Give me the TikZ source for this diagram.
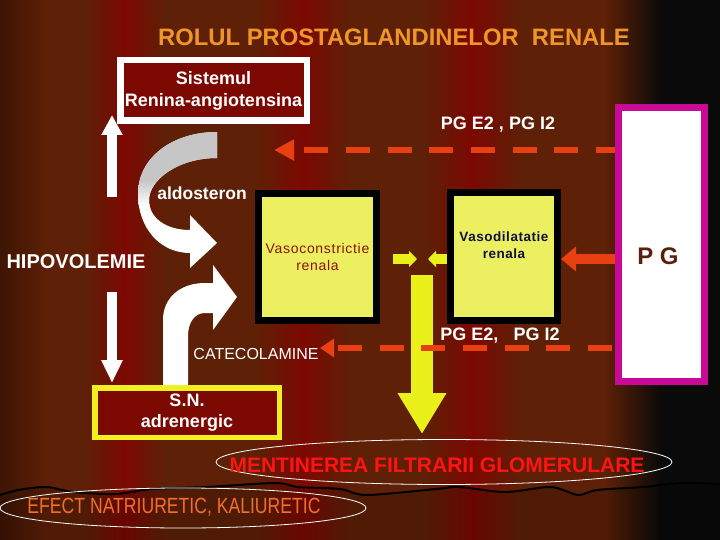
\documentclass[tikz,border=0pt]{standalone}
\usepackage{fontspec}
\setmainfont{Liberation Sans}
\usetikzlibrary{arrows.meta,shapes.geometric}

\definecolor{bgdark}{RGB}{62,20,4}
\definecolor{bgbrown}{RGB}{94,32,6}
\definecolor{bgred}{RGB}{124,8,2}
\definecolor{bgblack}{RGB}{10,10,10}
\definecolor{titleorange}{RGB}{240,150,40}
\definecolor{boxyellow}{RGB}{236,240,96}
\definecolor{arrowyellow}{RGB}{234,240,26}
\definecolor{frameyellow}{RGB}{240,240,32}
\definecolor{dashorange}{RGB}{232,64,16}
\definecolor{pgmagenta}{RGB}{200,10,150}
\definecolor{textred}{RGB}{140,16,16}
\definecolor{textnavy}{RGB}{16,16,64}
\definecolor{pgbrown}{RGB}{90,32,12}
\definecolor{filtred}{RGB}{255,20,20}
\definecolor{efectorange}{RGB}{240,112,40}
\definecolor{aldogray}{RGB}{198,198,198}

\newcommand{\setfs}[2]{\fontsize{#1}{#2}\selectfont}

\begin{document}
\begin{tikzpicture}[x=1pt,y=-1pt]
  \useasboundingbox (0,0) rectangle (720,540);

  % curtain
  \shade[left color=bgdark,right color=bgbrown] (0,0) rectangle (46.5,540);
  \fill[bgbrown] (46,0) rectangle (85.5,540);
  \shade[left color=bgbrown,right color=bgred] (85,0) rectangle (124.5,540);
  \shade[left color=bgred,right color=bgbrown] (124,0) rectangle (165.5,540);
  \fill[bgbrown] (165,0) rectangle (255.5,540);
  \shade[left color=bgbrown,right color=bgred] (255,0) rectangle (303.5,540);
  \shade[left color=bgred,right color=bgbrown] (303,0) rectangle (350.5,540);
  \fill[bgbrown] (350,0) rectangle (425.5,540);
  \shade[left color=bgbrown,right color=bgred] (425,0) rectangle (472.5,540);
  \shade[left color=bgred,right color=bgbrown] (472,0) rectangle (520.5,540);
  \fill[bgbrown] (520,0) rectangle (605.5,540);
  \shade[left color=bgbrown,right color=bgblack] (605,0) rectangle (660.5,540);
  \fill[bgblack] (660,0) rectangle (720,540);

  \fill[black,opacity=0.15] plot[smooth] coordinates {(0,495) (18,490) (46,487) (73,492) (115,494)
    (152,489) (207,487) (275,483) (298,487) (340,489) (367,495) (436,489) (459,487)
    (505,492) (551,487) (578,495) (597,490) (643,487) (680,483) (720,484)}
    -- (720,540) -- (0,540) -- cycle;
  \draw[black,line width=2pt] plot[smooth] coordinates {(0,495) (18,490) (46,487) (73,492) (115,494)
    (152,489) (207,487) (275,483) (298,487) (340,489) (367,495) (436,489) (459,487)
    (505,492) (551,487) (578,495) (597,490) (643,487) (680,483) (720,484)};

  \tikzstyle{TitleStyle}=[text=titleorange, font=\setfs{23.8}{28}\bfseries, inner sep=0pt]
  \tikzstyle{LabelStyle}=[text=white, font=\setfs{18}{22}\bfseries, inner sep=0pt, align=center]
  \tikzstyle{FrameStyle}=[draw, fill=bgred, inner sep=0pt, align=center]
  \tikzstyle{KidneyBox}=[draw=black, line width=7pt, fill=boxyellow, inner sep=0pt, align=center]
  \tikzstyle{WhiteArrow}=[white, line width=10pt]
  \tikzstyle{DashArrow}=[dashorange, line width=6.5pt, dash pattern=on 24pt off 17.7pt]
  \tikzstyle{EllipseStyle}=[draw=white, line width=0.8pt, ellipse, inner sep=0pt]

  \node[TitleStyle] (title) at (394,37) {ROLUL PROSTAGLANDINELOR~~RENALE};

  \node[FrameStyle, draw=white, line width=6.5pt, minimum width=186.5pt, minimum height=60.5pt,
        text=white, font=\setfs{18}{22}\bfseries] (ras) at (213.5,90.5) {Sistemul\\Renina-angiotensina};
  \node[FrameStyle, draw=frameyellow, line width=5.5pt, minimum width=184.5pt, minimum height=49.5pt,
        text=white, font=\setfs{18}{21}\bfseries] (sn) at (187,412.5) {S.N.\\adrenergic};

  \node[KidneyBox, minimum width=118pt, minimum height=127pt, text=textred,
        font=\setfs{14}{17}\addfontfeature{LetterSpace=5}] (vcon) at (317.5,257) {Vasoconstrictie\\renala};
  \node[KidneyBox, minimum width=107pt, minimum height=128pt, text=textnavy,
        font=\setfs{13.5}{17}\bfseries\addfontfeature{LetterSpace=4}] (vdil) at (504,256.5) {Vasodilatatie\\renala\\[5pt]};

  \node[LabelStyle, font=\setfs{20}{24}\bfseries] (hipo) at (76,262) {HIPOVOLEMIE};
  \node[LabelStyle, font=\setfs{17.5}{21}\bfseries] (aldo) at (202,193) {aldosteron};
  \node[LabelStyle, font=\setfs{16}{20}] (cate) at (256,354) {CATECOLAMINE};
  \node[LabelStyle] (pgup) at (498,125) {PG E2 , PG I2};
  \node[LabelStyle] (pgdown) at (500,336) {PG E2,~~~PG I2};

  % white arrows
  \coordinate (upfrom) at (112,197);
  \coordinate (upto) at (112,115);
  \coordinate (downfrom) at (112,292);
  \coordinate (downto) at (112,383);
  \draw[WhiteArrow, -{Triangle[width=20pt,length=20pt]}] (upfrom) -- (upto);
  \draw[WhiteArrow, -{Triangle[width=20pt,length=23pt]}] (downfrom) -- (downto);

  % aldosteron arrow
  \begin{scope}
    \clip (217,132) .. controls (172,132) and (138,158) .. (138,194)
      .. controls (138,228) and (160,253) .. (190,253) -- (190,268) -- (217,243) -- (190,215)
      -- (190,230) .. controls (166,230) and (149,218) .. (149,200)
      .. controls (149,180) and (178,158) .. (217,158) -- cycle;
    \fill[white] (130,120) rectangle (225,275);
    \fill[aldogray] (130,120) rectangle (225,180);
    \shade[top color=aldogray,bottom color=white] (130,180) rectangle (225,206);
  \end{scope}
  % catecolamine arrow
  \fill[white] (163,385) -- (163,320) .. controls (163,298) and (180,283) .. (205,283)
    -- (213,283) -- (213,265) -- (237,297) -- (213,330) -- (213,313) -- (205,313)
    .. controls (195,313) and (188,322) .. (188,336) -- (188,385) -- cycle;

  % yellow arrows
  \coordinate (glomfrom) at (422,275);
  \coordinate (glomto) at (422,434);
  \coordinate (smallfrom) at (393,259);
  \coordinate (smallto) at (417,259);
  \coordinate (smallleft) at (428,259);
  \draw[arrowyellow, line width=21.5pt, -{Triangle[width=46pt,length=41pt]}] (glomfrom) -- (glomto);
  \draw[arrowyellow, line width=10pt, -{Triangle[width=16pt,length=8pt]}] (smallfrom) -- (smallto);
  \draw[arrowyellow, line width=10pt, -{Triangle[width=16pt,length=8pt]}] (vdil.west |- smallleft) -- (smallleft);

  % PG
  \node[draw=pgmagenta, line width=7pt, fill=white, minimum width=86pt, minimum height=274pt,
        inner sep=0pt] (pg) at (661.5,244.5) {};
  \node[text=pgbrown, font=\setfs{24}{28}\bfseries, inner sep=0pt] (pglabel) at (658,256) {P G};

  \coordinate (dashtop) at (274,150);
  \coordinate (dashbot) at (320,348);
  \coordinate (dashbotstart) at (612,348);
  \draw[DashArrow, dash phase=5pt, -{Triangle[width=20pt,length=20pt]}] (pg.west |- dashtop) -- (dashtop);
  \draw[DashArrow, -{Triangle[width=18pt,length=14pt]}] (dashbotstart) -- (dashbot);
  \draw[dashorange, line width=10.5pt, -{Triangle[width=24pt,length=15pt]}] (pg.west |- 0,259) -- (vdil.east |- 0,259);

  % results
  \node[EllipseStyle, minimum width=456pt, minimum height=45pt] (filtring) at (444,462) {};
  \node[text=filtred, font=\setfs{21}{24}\bfseries, inner sep=0pt] (filt) at (437,465) {MENTINEREA FILTRARII GLOMERULARE};
  \node[EllipseStyle, minimum width=366pt, minimum height=40pt] (efectring) at (183,508) {};
  \node[text=efectorange, font=\setfs{22}{26}, inner sep=0pt] (efect) at (174,507) {\scalebox{0.8}[1]{EFECT NATRIURETIC, KALIURETIC}};
\end{tikzpicture}
\end{document}
